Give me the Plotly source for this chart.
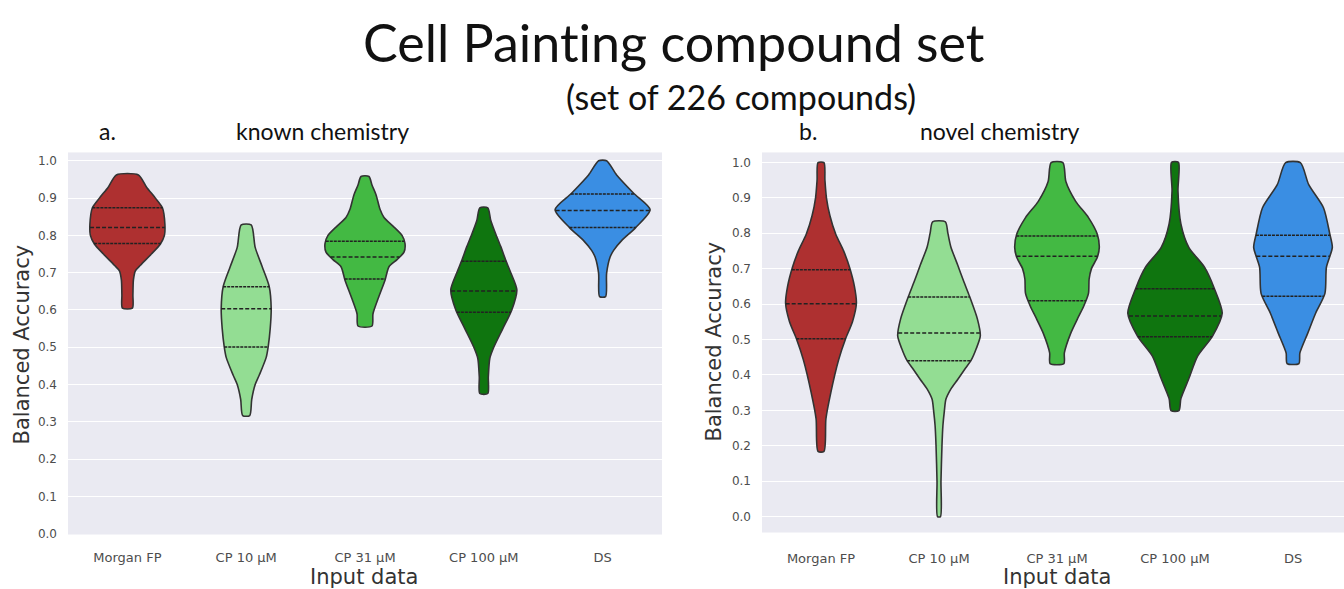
import numpy as np
import plotly.graph_objects as go

# ---- categories and palette -------------------------------------------------
categories = ["Morgan FP", "CP 10 µM", "CP 31 µM", "CP 100 µM", "DS"]
palette = ["#AE3030", "#93DD93", "#43B943", "#0F750F", "#3A8EE3"]
y_ticks = [0.0, 0.1, 0.2, 0.3, 0.4, 0.5, 0.6, 0.7, 0.8, 0.9, 1.0]
y_ticktext = ["0.0", "0.1", "0.2", "0.3", "0.4", "0.5", "0.6", "0.7", "0.8", "0.9", "1.0"]

# ---- known chemistry: density profiles (accuracy level, relative density) ----
known_morgan_y = [0.605, 0.64, 0.68, 0.705, 0.72, 0.75, 0.777, 0.80, 0.83, 0.874, 0.90, 0.93, 0.962]
known_morgan_d = [0.105, 0.116, 0.126, 0.168, 0.274, 0.505, 0.695, 0.779, 0.789, 0.737, 0.589, 0.40, 0.232]
known_cp10_y = [0.317, 0.36, 0.40, 0.425, 0.473, 0.502, 0.55, 0.603, 0.663, 0.716, 0.768, 0.828]
known_cp10_d = [0.074, 0.116, 0.189, 0.274, 0.421, 0.463, 0.505, 0.526, 0.484, 0.337, 0.189, 0.105]
known_cp31_y = [0.557, 0.59, 0.63, 0.68, 0.716, 0.735, 0.755, 0.778, 0.80, 0.825, 0.848, 0.87, 0.909, 0.935, 0.958]
known_cp31_d = [0.147, 0.168, 0.274, 0.421, 0.505, 0.674, 0.821, 0.842, 0.779, 0.589, 0.40, 0.316, 0.232, 0.147, 0.084]
known_cp100_y = [0.376, 0.42, 0.47, 0.50, 0.55, 0.60, 0.654, 0.70, 0.733, 0.77, 0.803, 0.84, 0.874]
known_cp100_d = [0.084, 0.095, 0.126, 0.21, 0.40, 0.589, 0.695, 0.568, 0.463, 0.358, 0.253, 0.147, 0.084]
known_ds_y = [0.636, 0.698, 0.742, 0.76, 0.786, 0.821, 0.869, 0.913, 0.962, 1.0]
known_ds_d = [0.063, 0.084, 0.158, 0.232, 0.40, 0.695, 1.0, 0.653, 0.295, 0.084]

# quartiles (Q1, median, Q3)
known_morgan_q = [0.778, 0.821, 0.874]
known_cp10_q = [0.501, 0.603, 0.662]
known_cp31_q = [0.683, 0.742, 0.784]
known_cp100_q = [0.594, 0.651, 0.731]
known_ds_q = [0.821, 0.867, 0.911]

# ---- novel chemistry ---------------------------------------------------------
novel_morgan_y = [0.184, 0.276, 0.35, 0.443, 0.502, 0.55, 0.602, 0.65, 0.704, 0.75, 0.797, 0.85, 0.90, 0.95, 0.999]
novel_morgan_d = [0.063, 0.104, 0.208, 0.375, 0.521, 0.667, 0.75, 0.708, 0.604, 0.479, 0.313, 0.188, 0.115, 0.083, 0.063]
novel_cp10_y = [0.0, 0.1, 0.2, 0.257, 0.30, 0.331, 0.36, 0.387, 0.415, 0.443, 0.475, 0.51, 0.558, 0.622, 0.665, 0.71, 0.762, 0.80, 0.832]
novel_cp10_d = [0.031, 0.042, 0.063, 0.083, 0.115, 0.146, 0.25, 0.396, 0.542, 0.688, 0.792, 0.875, 0.813, 0.646, 0.521, 0.396, 0.25, 0.188, 0.135]
novel_cp31_y = [0.432, 0.462, 0.518, 0.56, 0.593, 0.63, 0.67, 0.70, 0.732, 0.76, 0.797, 0.844, 0.89, 0.946, 0.999]
novel_cp31_d = [0.146, 0.156, 0.292, 0.44, 0.563, 0.667, 0.68, 0.73, 0.854, 0.896, 0.854, 0.667, 0.396, 0.188, 0.125]
novel_cp100_y = [0.299, 0.333, 0.389, 0.453, 0.509, 0.574, 0.644, 0.704, 0.76, 0.826, 0.919, 1.0]
novel_cp100_d = [0.083, 0.125, 0.292, 0.479, 0.792, 1.0, 0.833, 0.625, 0.292, 0.125, 0.063, 0.073]
novel_ds_y = [0.432, 0.462, 0.518, 0.574, 0.63, 0.704, 0.76, 0.797, 0.872, 0.937, 0.999]
novel_ds_d = [0.125, 0.146, 0.313, 0.479, 0.677, 0.708, 0.833, 0.781, 0.646, 0.333, 0.156]

novel_morgan_q = [0.502, 0.601, 0.697]
novel_cp10_q = [0.44, 0.518, 0.620]
novel_cp31_q = [0.609, 0.735, 0.792]
novel_cp100_q = [0.508, 0.566, 0.643]
novel_ds_q = [0.622, 0.735, 0.794]

known_panel = [
    (known_morgan_y, known_morgan_d, known_morgan_q),
    (known_cp10_y, known_cp10_d, known_cp10_q),
    (known_cp31_y, known_cp31_d, known_cp31_q),
    (known_cp100_y, known_cp100_d, known_cp100_q),
    (known_ds_y, known_ds_d, known_ds_q),
]
novel_panel = [
    (novel_morgan_y, novel_morgan_d, novel_morgan_q),
    (novel_cp10_y, novel_cp10_d, novel_cp10_q),
    (novel_cp31_y, novel_cp31_d, novel_cp31_q),
    (novel_cp100_y, novel_cp100_d, novel_cp100_q),
    (novel_ds_y, novel_ds_d, novel_ds_q),
]

HALF_WIDTH = 0.4          # half-width (category units) of the widest violin
OUTLINE = "#333333"
W_PX, H_PX = 1344, 589

fig = go.Figure()


def add_violins(panel, xref, yref):
    for i, (lev, dens, quart) in enumerate(panel):
        lev = np.asarray(lev, float)
        hw = HALF_WIDTH * np.asarray(dens, float)
        xs = np.concatenate([i + hw, (i - hw)[::-1], [i + hw[0]]])
        ys = np.concatenate([lev, lev[::-1], [lev[0]]])
        fig.add_trace(go.Scatter(
            x=xs, y=ys, xaxis=xref, yaxis=yref, mode="lines",
            fill="toself", fillcolor=palette[i],
            line=dict(color=OUTLINE, width=1.6, shape="spline", smoothing=0.7),
            showlegend=False, hoverinfo="skip"))
        # quartile lines: Q1/Q3 short dashes, median longer dashes
        for k, q in enumerate(quart):
            w = HALF_WIDTH * np.interp(q, lev, dens)
            fig.add_trace(go.Scatter(
                x=[i - w, i + w], y=[q, q], xaxis=xref, yaxis=yref, mode="lines",
                line=dict(color="#222222", width=1.5,
                          dash="4px,2px" if k == 1 else "3px,1px"),
                showlegend=False, hoverinfo="skip"))


add_violins(known_panel, "x", "y")
add_violins(novel_panel, "x2", "y2")

xtick_font = dict(family="DejaVu Sans", size=13, color="#4d4d4d")
ytick_font = dict(family="DejaVu Sans", size=12, color="#4d4d4d")
x_common = dict(tickvals=list(range(len(categories))), ticktext=categories,
                tickfont=xtick_font, showgrid=False, zeroline=False,
                showline=False, ticks="")
y_common = dict(tickvals=y_ticks, ticktext=y_ticktext, tickfont=ytick_font,
                showgrid=True, gridcolor="white", gridwidth=1.3,
                zeroline=False, showline=False, ticks="", ticklabelstandoff=10)

fig.update_layout(
    width=W_PX, height=H_PX,
    margin=dict(l=0, r=0, t=0, b=0),
    paper_bgcolor="white", plot_bgcolor="#EAEAF2",
    xaxis=dict(domain=[68 / W_PX, 662 / W_PX], range=[-0.5, 4.5],
               ticklabelstandoff=14, **x_common),
    yaxis=dict(domain=[1 - 540 / H_PX, 1 - 154 / H_PX], range=[-0.002, 1.0225], **y_common),
    xaxis2=dict(domain=[762 / W_PX, 1.0], range=[-0.5, -0.5 + 582 / 118], anchor="y2",
                ticklabelstandoff=16, **x_common),
    yaxis2=dict(domain=[1 - 538 / H_PX, 1 - 154 / H_PX], range=[-0.045, 1.028], anchor="x2", **y_common),
)


def label(text, px, py, size, family="Lato", color="#111111", angle=0):
    fig.add_annotation(text=text, x=px / W_PX, y=1 - py / H_PX, xref="paper", yref="paper",
                       xanchor="center", yanchor="middle", showarrow=False, textangle=angle,
                       font=dict(family=family, size=size, color=color))


# ZWNJ keeps "ti" from turning into a ligature
label("Cell Paint\u200cing compound set", 674, 42, 52)
label("(set of 226 compounds)", 741, 97, 34)
label("a.", 107, 132, 23)
label("known chemistry", 322, 132, 23)
label("b.", 808, 132, 23)
label("novel chemistry", 1000, 132, 23)
label("Balanced Accuracy", 22, 348, 21, family="DejaVu Sans", color="#333333", angle=-90)
label("Balanced Accuracy", 714, 345, 21, family="DejaVu Sans", color="#333333", angle=-90)
label("Input data", 364, 583, 21, family="DejaVu Sans", color="#333333")
label("Input data", 1057, 583, 21, family="DejaVu Sans", color="#333333")

fig.write_html("out.html")
